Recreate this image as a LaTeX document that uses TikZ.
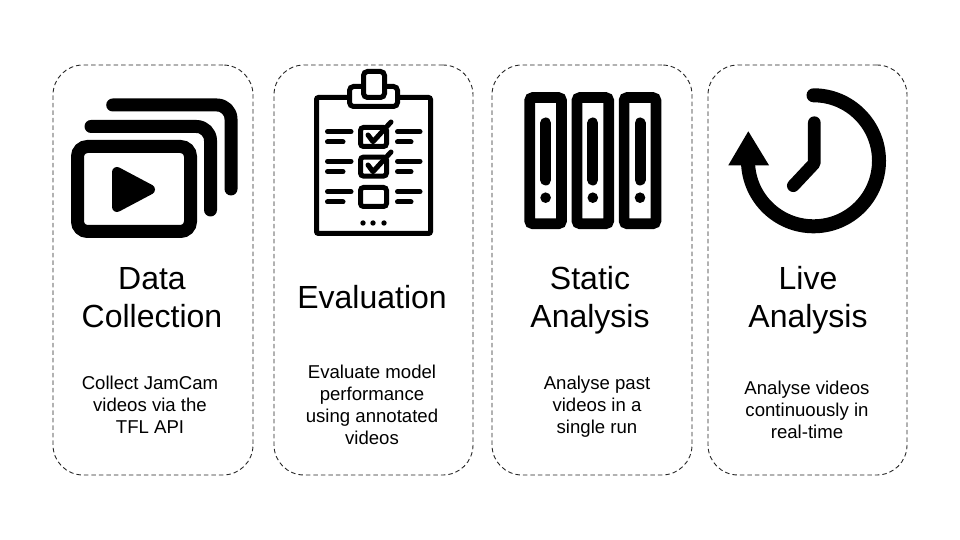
\documentclass[tikz,border=0pt]{standalone}
\usepackage{fontspec}
\setmainfont{Liberation Sans}
\tikzset{
  card/.style={draw=black!85, line width=0.9pt, dash pattern=on 4.5pt off 3pt, rounded corners=30pt, minimum height=410pt},
  heading/.style={align=center, font=\fontsize{32}{38}\selectfont},
  blurb/.style={align=center, font=\fontsize{18.6}{22}\selectfont},
  thick line/.style={line width=13pt, line cap=round, line join=round},
  thin line/.style={line width=5pt, line cap=round, line join=round},
}
\begin{document}
\begin{tikzpicture}[x=1pt, y=1pt]
\useasboundingbox (0,0) rectangle (960,540);

\node[card, minimum width=200pt] (card1) at (153,270) {};
\node[card, minimum width=199pt] (card2) at (373.5,270) {};
\node[card, minimum width=200pt] (card3) at (592,270) {};
\node[card, minimum width=199pt] (card4) at (807.5,270) {};

% videos
\draw[thick line, rounded corners=14pt] (112.7,435) -- (231,435) -- (231,351);
\draw[thick line, rounded corners=14pt] (91,413.5) -- (210.5,413.5) -- (210.5,330);
\draw[line width=13pt, rounded corners=10pt] (77.5,308.5) rectangle (190.5,393.5);
\fill[draw, line width=10pt, line join=round] (117,368) -- (117,333) -- (150,350.5) -- cycle;

% clipboard
\draw[line width=5pt, rounded corners=2pt] (316.5,306.5) rectangle (430.5,442.5);
\draw[line width=5pt, rounded corners=4pt, fill=white] (349.5,433.5) rectangle (397.5,453.5);
\draw[line width=5pt, rounded corners=4pt, fill=white] (363.5,442.5) rectangle (384.5,468.5);
\foreach \y in {408.3,378.7,348.3} {
  \draw[thin line] (327.5,\y) -- (351,\y);
  \draw[thin line] (397.5,\y) -- (420,\y);
  \draw[thin line] (327.5,\y-10.3) -- (343,\y-10.3);
  \draw[thin line] (397.5,\y-10.3) -- (411,\y-10.3);
  \draw[line width=5pt, rounded corners=3pt] (360.5,\y-14.8) rectangle (386.5,\y+4.2);
}
\foreach \y in {0,-30} {
  \draw[line width=5pt, line cap=round, line join=round] (368,405+\y) -- (373,398.3+\y) -- (391,418+\y);
}
\foreach \x in {363,373,384}
  \fill (\x,317) circle (2.7pt);

% binders
\foreach \x in {545.6,592.8,640} {
  \draw[line width=10.7pt, rounded corners=3pt] (\x-15.9,316.3) rectangle (\x+15.9,442.4);
  \draw[line width=11pt, line cap=round] (\x,417) -- (\x,360);
  \fill (\x,342.3) circle (5.3pt);
}

% clock
\draw[line width=14pt, line cap=round] (813.5,444.7) arc (90:-178:65.5pt);
\fill (728.3,374.7) -- (769,374.7) -- (748.3,408.7) -- cycle;
\draw[line width=12.7pt, line cap=round, line join=round] (814.3,417.3) -- (814.3,376.7) -- (793.3,354.3);

\node[heading] (title1) at (152,242) {Data\\Collection};
\node[heading] (title2) at (372,243) {Evaluation};
\node[heading] (title3) at (590,239.5) {Static\\Analysis};
\node[heading] (title4) at (808,239.5) {Live\\Analysis};

\node[blurb] (text1) at (150,135.5) {Collect JamCam\\videos via the\\TFL API};
\node[blurb] (text2) at (372,135) {Evaluate model\\performance\\using annotated\\videos};
\node[blurb] (text3) at (597,133.5) {Analyse past\\videos in a\\single run};
\node[blurb] (text4) at (807,130) {Analyse videos\\continuously in\\real-time};
\end{tikzpicture}
\end{document}
